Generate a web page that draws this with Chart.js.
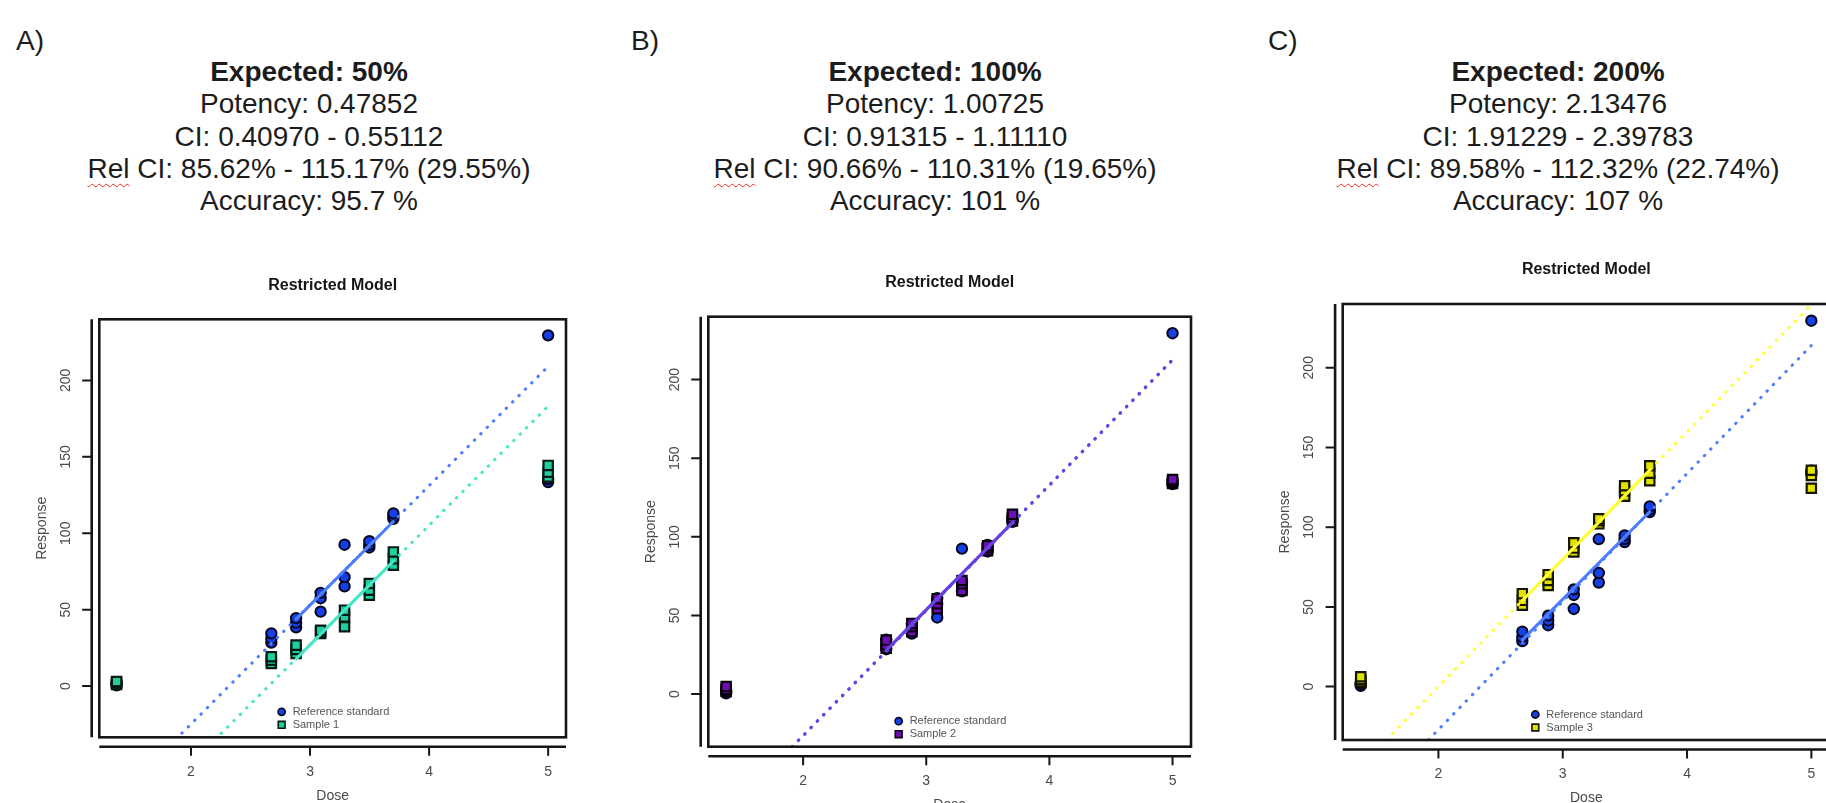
<!DOCTYPE html>
<html>
<head>
<meta charset="utf-8">
<script src="https://cdn.jsdelivr.net/npm/chart.js@4.4.1/dist/chart.umd.min.js"></script>
<style>
html, body { margin: 0; padding: 0; background: #fff; }
body { width: 1826px; height: 803px; overflow: hidden; position: relative;
       font-family: "Liberation Sans", Arial, sans-serif; color: #1c1c1c; }
.tag { position: absolute; top: 25px; font-size: 28px; line-height: 32px; }
.head { position: absolute; top: 56px; width: 600px; text-align: center; white-space: nowrap;
        font-size: 28px; line-height: 32.3px; }
.rel { text-decoration: underline wavy #e22b2b; text-decoration-thickness: 1px; text-underline-offset: 5px; }
.plot { position: absolute; top: 250px; width: 620px; height: 560px; }
</style>
</head>
<body>

<div class="tag" style="left:16px">A)</div>
<div class="head" style="left:9px"><b>Expected: 50%</b><br>Potency: 0.47852<br>CI: 0.40970 - 0.55112<br><span class="rel">Rel</span> CI: 85.62% - 115.17% (29.55%)<br>Accuracy: 95.7 %</div>

<div class="tag" style="left:631px">B)</div>
<div class="head" style="left:635px"><b>Expected: 100%</b><br>Potency: 1.00725<br>CI: 0.91315 - 1.11110<br><span class="rel">Rel</span> CI: 90.66% - 110.31% (19.65%)<br>Accuracy: 101 %</div>

<div class="tag" style="left:1268px">C)</div>
<div class="head" style="left:1258px"><b>Expected: 200%</b><br>Potency: 2.13476<br>CI: 1.91229 - 2.39783<br><span class="rel">Rel</span> CI: 89.58% - 112.32% (22.74%)<br>Accuracy: 107 %</div>

<div class="plot" style="left:0px"><canvas id="plotA" width="620" height="560"></canvas></div>
<div class="plot" style="left:620px"><canvas id="plotB" width="620" height="560"></canvas></div>
<div class="plot" style="left:1240px"><canvas id="plotC" width="620" height="560"></canvas></div>

<script>
// --- DATA (log dose vs response, 3 replicates per dose) ---
const doseLevels = [1.375, 2.675, 2.883, 3.089, 3.29, 3.498, 3.70, 5.00];
const xTicks = [2, 3, 4, 5];
const yTicks = [0, 50, 100, 150, 200];

const refResp = [
    [0.5, 1.5, 2.5], [28.5, 31, 34.5], [38.5, 41.5, 44.5], [48.7, 57.5, 61],
    [65.3, 71.3, 92.5], [90.7, 92.5, 94.8], [109.5, 111, 113], [133.5, 135.5, 229.5]
];
const sample1Resp = [
    [1, 2, 3], [14.8, 17, 19.2], [21.4, 24, 26.8], [34.5, 35.5, 36.5],
    [38.8, 45.3, 49.7], [59.5, 62.7, 67.1], [79.1, 83.4, 87.8], [136.8, 140, 144.4]
];
const sample2Resp = [
    [1.7, 3, 4.8], [29.1, 31.2, 34.3], [39.6, 42.8, 44.9], [54.3, 57.5, 60.6],
    [65.9, 70.1, 72.2], [91.2, 93, 94.3], [110.1, 112.2, 114.3], [133.9, 135.2, 136.4]
];
const sample3Resp = [
    [3.1, 4.5, 6.2], [51, 54.1, 58.3], [63.5, 66.6, 70.2], [84.4, 86.9, 90.2],
    [102.1, 104, 105.2], [119.4, 122.9, 126], [129.1, 133.9, 138.5], [124.4, 132.4, 135.7]
];

// fitted parallel lines: [dose, response] end points
const fitA = {
    refDot: [[1.87, -35], [5.0, 209.2]],  refSolid: [[2.883, 43.8], [3.70, 107.7]],
    smpDot: [[2.20, -35.2], [5.0, 183.2]], smpSolid: [[2.883, 17.8], [3.70, 81.8]]
};
const fitB = {
    refDot: [[1.91, -33.8], [5.0, 212.3]], refSolid: [[2.675, 27.7], [3.70, 108.9]],
    smpDot: [[1.91, -33.5], [5.0, 212.7]], smpSolid: [[2.675, 27.9], [3.70, 109.1]]
};
const fitC = {
    refDot: [[1.92, -33.4], [5.0, 214]],   refSolid: [[2.675, 29.3], [3.70, 109.7]],
    smpDot: [[1.58, -33.4], [5.0, 239.6]], smpSolid: [[2.675, 54.0], [3.70, 135.8]]
};

const xRange = [1.23, 5.15];
const yRange = [-33.5, 240];

// --- STYLE ---
const REF = { fill: '#1440e6', border: '#06061e', line: '#4d7dff' };
const SMP1 = { fill: '#1fcf9e', border: '#041a12', line: '#45e6c4' };
const SMP2 = { fill: '#6e0fb5', border: '#08000e', line: '#6b3fe0' };
const SMP3 = { fill: '#e2e200', border: '#161600', line: '#ffff33' };

function puntos(resp) {
    const out = [];
    doseLevels.forEach((d, i) => resp[i].forEach(v => out.push({ x: d, y: v })));
    return out;
}
function tramo(par) {
    return par.map(p => ({ x: p[0], y: p[1] }));
}

// --- R-style axes, box, titles and legend ---
const rAxes = {
    id: 'rAxes',
    afterDraw(chart, args, opts) {
        const { ctx, chartArea: a, scales: { x, y } } = chart;
        const yLine = a.left - 7.6, xLine = a.bottom + 9.5;
        const cx = (a.left + a.right) / 2, cy = (a.top + a.bottom) / 2;
        ctx.save();
        ctx.strokeStyle = '#161616';
        ctx.lineWidth = 2.6;
        ctx.strokeRect(a.left, a.top, a.right - a.left, a.bottom - a.top);
        ctx.beginPath();
        ctx.moveTo(yLine, a.top); ctx.lineTo(yLine, a.bottom);
        ctx.moveTo(a.left, xLine); ctx.lineTo(a.right, xLine);
        ctx.stroke();

        ctx.lineWidth = 2;
        ctx.beginPath();
        yTicks.forEach(v => { const p = y.getPixelForValue(v); ctx.moveTo(yLine, p); ctx.lineTo(yLine - 9.5, p); });
        xTicks.forEach(v => { const p = x.getPixelForValue(v); ctx.moveTo(p, xLine); ctx.lineTo(p, xLine + 9); });
        ctx.stroke();

        ctx.fillStyle = '#4a4a4a';
        ctx.font = '14px "Liberation Sans", Arial, sans-serif';
        ctx.textAlign = 'center';
        ctx.textBaseline = 'middle';
        xTicks.forEach(v => ctx.fillText(String(v), x.getPixelForValue(v), xLine + 25));
        ctx.fillText('Dose', cx, xLine + 49);
        yTicks.forEach(v => {
            ctx.save();
            ctx.translate(yLine - 25.5, y.getPixelForValue(v));
            ctx.rotate(-Math.PI / 2);
            ctx.fillText(String(v), 0, 0);
            ctx.restore();
        });
        ctx.save();
        ctx.translate(yLine - 50, cy);
        ctx.rotate(-Math.PI / 2);
        ctx.fillText('Response', 0, 0);
        ctx.restore();

        ctx.fillStyle = '#151515';
        ctx.font = 'bold 16px "Liberation Sans", Arial, sans-serif';
        ctx.fillText('Restricted Model', cx, a.top - 34);

        // legend
        const lx = cx - 51, r1 = a.bottom - 25.5, r2 = a.bottom - 12.5;
        ctx.lineWidth = 1.6;
        ctx.fillStyle = REF.fill; ctx.strokeStyle = REF.border;
        ctx.beginPath(); ctx.arc(lx, r1, 3.6, 0, Math.PI * 2); ctx.fill(); ctx.stroke();
        ctx.fillStyle = opts.smp.fill; ctx.strokeStyle = opts.smp.border;
        ctx.beginPath(); ctx.rect(lx - 3.4, r2 - 3.4, 6.8, 6.8); ctx.fill(); ctx.stroke();
        ctx.fillStyle = '#555';
        ctx.font = '11px "Liberation Sans", Arial, sans-serif';
        ctx.textAlign = 'left';
        ctx.fillText('Reference standard', lx + 11, r1);
        ctx.fillText(opts.label, lx + 11, r2);
        ctx.restore();
    }
};

function crearPanel(id, smpResp, fit, smp, label, pad) {
    const linea = (data, color, dotted, order) => ({
        type: 'line', data: tramo(data), order: order,
        borderColor: color, borderWidth: 3,
        borderDash: dotted ? [0.5, 8.5] : [], borderCapStyle: 'round',
        pointRadius: 0, showLine: true, fill: false, clip: 0
    });
    new Chart(document.getElementById(id), {
        type: 'scatter',
        data: {
            datasets: [
                linea(fit.smpSolid, smp.line, false, 0),
                linea(fit.smpDot, smp.line, true, 1),
                linea(fit.refSolid, REF.line, false, 2),
                linea(fit.refDot, REF.line, true, 3),
                { data: puntos(smpResp), order: 4, pointStyle: 'rect', pointRadius: 6.6,
                  backgroundColor: smp.fill, borderColor: smp.border, borderWidth: 2.2 },
                { data: puntos(refResp), order: 5, pointStyle: 'circle', pointRadius: 5.2,
                  backgroundColor: REF.fill, borderColor: REF.border, borderWidth: 2 }
            ]
        },
        options: {
            responsive: false,
            animation: false,
            events: [],
            layout: { padding: pad },
            scales: {
                x: { type: 'linear', min: xRange[0], max: xRange[1], display: false },
                y: { type: 'linear', min: yRange[0], max: yRange[1], display: false }
            },
            plugins: {
                legend: { display: false },
                tooltip: { enabled: false },
                rAxes: { smp: smp, label: label }
            }
        },
        plugins: [rAxes]
    });
}

crearPanel('plotA', sample1Resp, fitA, SMP1, 'Sample 1', { left: 99.3, top: 69.3, right: 54, bottom: 72.7 });
crearPanel('plotB', sample2Resp, fitB, SMP2, 'Sample 2', { left: 88.3, top: 66.7, right: 49, bottom: 63.3 });
crearPanel('plotC', sample3Resp, fitC, SMP3, 'Sample 3', { left: 102.7, top: 54, right: 30, bottom: 70 });
</script>
</body>
</html>
